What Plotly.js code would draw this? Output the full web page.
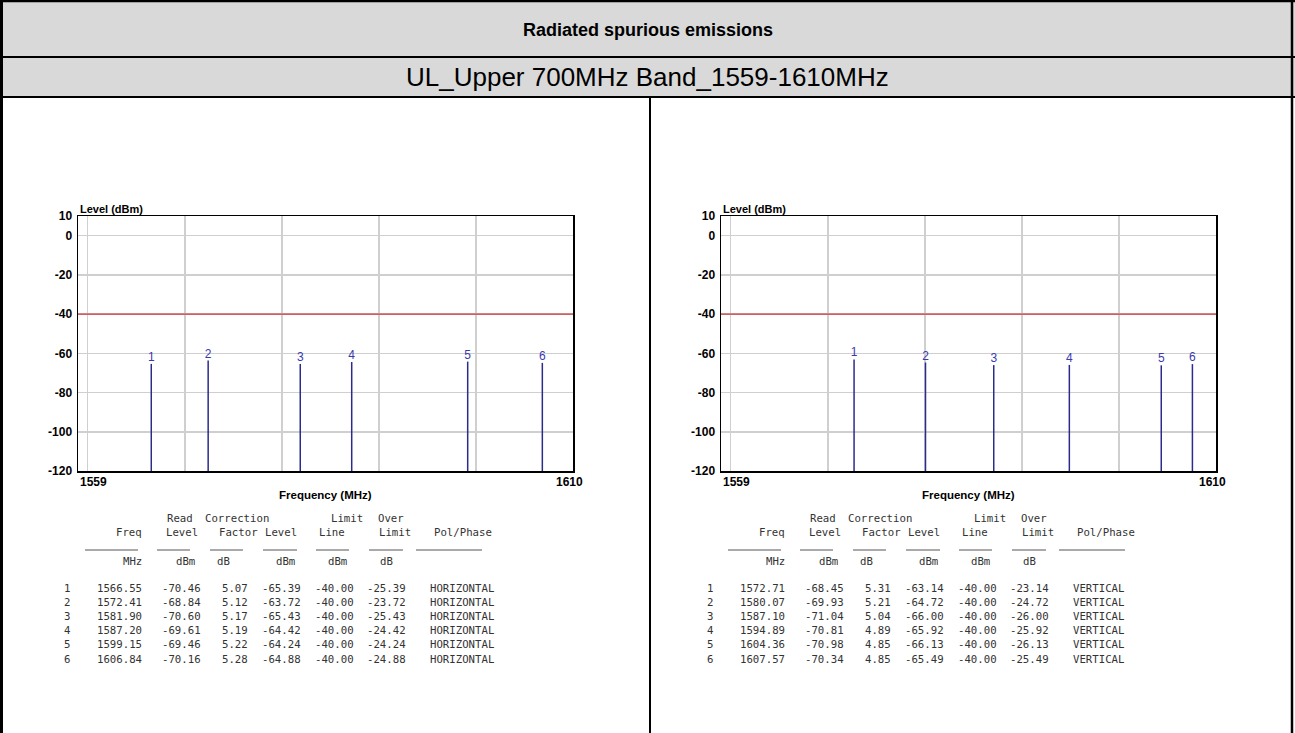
<!DOCTYPE html>
<html>
<head>
<meta charset="utf-8">
<script src="https://cdn.plot.ly/plotly-3.0.1.min.js"></script>
<style>
html,body{margin:0;padding:0;background:#fff;}
#chart{width:1295px;height:733px;}
</style>
</head>
<body>
<div id="chart"></div>
<script>
// ---------------- data ----------------
const title = "Radiated spurious emissions";
const subtitle = "UL_Upper 700MHz Band_1559-1610MHz";
const xTickLabels = ["1559", "1610"];
const yTickVals = [10, 0, -20, -40, -60, -80, -100, -120];
const markerLabels = ["1", "2", "3", "4", "5", "6"];
const limitLevel = -40;

const freqL  = [1566.55, 1572.41, 1581.90, 1587.20, 1599.15, 1606.84];
const readL  = [-70.46, -68.84, -70.60, -69.61, -69.46, -70.16];
const corrL  = [5.07, 5.12, 5.17, 5.19, 5.22, 5.28];
const levelL = [-65.39, -63.72, -65.43, -64.42, -64.24, -64.88];
const limitL = [-40.00, -40.00, -40.00, -40.00, -40.00, -40.00];
const overL  = [-25.39, -23.72, -25.43, -24.42, -24.24, -24.88];
const polL   = ["HORIZONTAL", "HORIZONTAL", "HORIZONTAL", "HORIZONTAL", "HORIZONTAL", "HORIZONTAL"];

const freqR  = [1572.71, 1580.07, 1587.10, 1594.89, 1604.36, 1607.57];
const readR  = [-68.45, -69.93, -71.04, -70.81, -70.98, -70.34];
const corrR  = [5.31, 5.21, 5.04, 4.89, 4.85, 4.85];
const levelR = [-63.14, -64.72, -66.00, -65.92, -66.13, -65.49];
const limitR = [-40.00, -40.00, -40.00, -40.00, -40.00, -40.00];
const overR  = [-23.14, -24.72, -26.00, -25.92, -26.13, -25.49];
const polR   = ["VERTICAL", "VERTICAL", "VERTICAL", "VERTICAL", "VERTICAL", "VERTICAL"];

// ---------------- layout helpers ----------------
const W = 1295, H = 733;
const px = x => x / W;
const py = y => 1 - y / H;
const xMin = 1559, xMax = 1610, yMin = -120, yMax = 10;

const spikeColor = "#2b2b8c";
const labelColor = "#3a3ab0";
const limitColor = "#d03a3a";
const gridColor = "#cfcfcf";
const tableColor = "#333333";
const mono = "DejaVu Sans Mono, Liberation Mono, monospace";
const arial = "Arial, Liberation Sans, sans-serif";

function spikeTrace(freqs, levels, xa, ya) {
  const xs = [], ys = [];
  freqs.forEach((f, i) => { xs.push(f, f, null); ys.push(yMin, levels[i], null); });
  return {x: xs, y: ys, mode: "lines", line: {color: spikeColor, width: 1.5},
          xaxis: xa, yaxis: ya, hoverinfo: "skip", showlegend: false};
}
function labelTrace(freqs, levels, xa, ya) {
  return {x: freqs, y: levels, text: markerLabels, mode: "text", textposition: "top center",
          textfont: {family: arial, size: 12, color: labelColor},
          xaxis: xa, yaxis: ya, hoverinfo: "skip", showlegend: false, cliponaxis: false};
}
function limitTrace(xa, ya) {
  return {x: [xMin, xMax], y: [limitLevel, limitLevel], mode: "lines",
          line: {color: limitColor, width: 1.2}, xaxis: xa, yaxis: ya,
          hoverinfo: "skip", showlegend: false};
}

const data = [
  limitTrace("x", "y"), spikeTrace(freqL, levelL, "x", "y"), labelTrace(freqL, levelL, "x", "y"),
  limitTrace("x2", "y2"), spikeTrace(freqR, levelR, "x2", "y2"), labelTrace(freqR, levelR, "x2", "y2")
];

function xAxis(dom, anchor) {
  return {domain: dom, anchor: anchor, range: [xMin, xMax], tickmode: "linear", tick0: 1560, dtick: 10,
          showticklabels: false, ticks: "", showgrid: true, gridcolor: gridColor, gridwidth: 1.5,
          zeroline: false, showline: true, mirror: true, linecolor: "#000", linewidth: 1.5, fixedrange: true};
}
function yAxis(dom, anchor) {
  return {domain: dom, anchor: anchor, range: [yMin, yMax], tickmode: "array", tickvals: yTickVals,
          ticktext: yTickVals.map(String), ticks: "", showgrid: true, gridcolor: gridColor, gridwidth: 1.5,
          zeroline: false, showline: true, mirror: true, linecolor: "#000", linewidth: 1.5,
          tickfont: {family: arial, size: 12, color: "#000", weight: "bold"}, ticklabelstandoff: 2, fixedrange: true};
}

const plotTop = 216, plotBot = 471;
const leftX = [78, 573], rightX = [721, 1216];

const annotations = [];
const shapes = [];

// header cells
shapes.push({type: "rect", xref: "paper", yref: "paper", x0: 0, x1: 1, y0: py(97), y1: 1,
             fillcolor: "#d9d9d9", line: {width: 0}, layer: "below"});
const blk = {color: "#000", width: 2};
shapes.push({type: "line", xref: "paper", yref: "paper", x0: px(0), x1: px(1295), y0: py(57), y1: py(57), line: blk});
shapes.push({type: "line", xref: "paper", yref: "paper", x0: px(0), x1: px(1295), y0: py(97), y1: py(97), line: blk});
shapes.push({type: "line", xref: "paper", yref: "paper", x0: px(650), x1: px(650), y0: py(97), y1: 0, line: blk});
shapes.push({type: "line", xref: "paper", yref: "paper", x0: px(0), x1: px(1295), y0: py(1), y1: py(1), line: {color: "#000", width: 2.5}});
shapes.push({type: "line", xref: "paper", yref: "paper", x0: px(1.5), x1: px(1.5), y0: 0, y1: 1, line: {color: "#000", width: 3}});
shapes.push({type: "line", xref: "paper", yref: "paper", x0: px(1292), x1: px(1292), y0: 0, y1: 1, line: {color: "#000", width: 2.5}});

annotations.push({xref: "paper", yref: "paper", x: 0.5, y: py(30), xanchor: "center", yanchor: "middle",
                  text: title, showarrow: false, font: {family: arial, size: 18, color: "#000", weight: "bold"}});
annotations.push({xref: "paper", yref: "paper", x: 0.5, y: py(77), xanchor: "center", yanchor: "middle",
                  text: subtitle, showarrow: false, font: {family: arial, size: 26, color: "#000"}});

// axis labels for both charts
[["x", "y"], ["x2", "y2"]].forEach(([xa, ya]) => {
  annotations.push({xref: xa + " domain", yref: "paper", x: 0, y: py(209), xanchor: "left", yanchor: "middle",
                    text: "Level (dBm)", showarrow: false, font: {family: arial, size: 11, color: "#000", weight: "bold"}});
  annotations.push({xref: xa + " domain", yref: "paper", x: 0.5, y: py(495), xanchor: "center", yanchor: "middle",
                    text: "Frequency (MHz)", showarrow: false, font: {family: arial, size: 11.5, color: "#000", weight: "bold"}});
  annotations.push({xref: xa, yref: "paper", x: xMin, y: py(482), xanchor: "left", yanchor: "middle",
                    text: xTickLabels[0], showarrow: false, font: {family: arial, size: 12, color: "#000", weight: "bold"}});
  annotations.push({xref: xa, yref: "paper", x: xMax, y: py(482), xanchor: "center", yanchor: "middle", xshift: -4,
                    text: xTickLabels[1], showarrow: false, font: {family: arial, size: 12, color: "#000", weight: "bold"}});
});

// tables
function txt(x, y, s, anchor) {
  annotations.push({xref: "paper", yref: "paper", x: px(x), y: py(y), xanchor: anchor, yanchor: "middle",
                    text: s, showarrow: false, font: {family: mono, size: 10.7, color: tableColor}});
}
function table(off, freqs, reads, corrs, levels, limits, overs, pols) {
  txt(off + 165, 518, "Read", "left");
  txt(off + 203, 518, "Correction", "left");
  txt(off + 329, 518, "Limit", "left");
  txt(off + 376, 518, "Over", "left");
  txt(off + 144, 532, "Freq", "right");
  txt(off + 164, 532, "Level", "left");
  txt(off + 217, 532, "Factor", "left");
  txt(off + 263, 532, "Level", "left");
  txt(off + 317, 532, "Line", "left");
  txt(off + 377, 532, "Limit", "left");
  txt(off + 432, 532, "Pol/Phase", "left");
  [[85, 138], [157, 190], [210, 243], [263, 297], [316, 349], [369, 403], [416, 482]].forEach(([a, b]) => {
    shapes.push({type: "line", xref: "paper", yref: "paper", x0: px(off + a), x1: px(off + b), y0: py(550), y1: py(550),
                 line: {color: "#555", width: 1}});
  });
  txt(off + 144, 561, "MHz", "right");
  txt(off + 197, 561, "dBm", "right");
  txt(off + 215, 561, "dB", "left");
  txt(off + 297, 561, "dBm", "right");
  txt(off + 349, 561, "dBm", "right");
  txt(off + 378, 561, "dB", "left");
  freqs.forEach((f, i) => {
    const y = 588 + i * 14.2;
    txt(off + 62, y, markerLabels[i], "left");
    txt(off + 144, y, f.toFixed(2), "right");
    txt(off + 203, y, reads[i].toFixed(2), "right");
    txt(off + 250, y, corrs[i].toFixed(2), "right");
    txt(off + 303, y, levels[i].toFixed(2), "right");
    txt(off + 356, y, limits[i].toFixed(2), "right");
    txt(off + 408, y, overs[i].toFixed(2), "right");
    txt(off + 428, y, pols[i], "left");
  });
}
table(0, freqL, readL, corrL, levelL, limitL, overL, polL);
table(643, freqR, readR, corrR, levelR, limitR, overR, polR);

const layout = {
  width: W, height: H, margin: {l: 0, r: 0, t: 0, b: 0, pad: 0},
  paper_bgcolor: "#fff", plot_bgcolor: "#fff", showlegend: false,
  xaxis: xAxis([px(leftX[0]), px(leftX[1])], "y"),
  yaxis: yAxis([py(plotBot), py(plotTop)], "x"),
  xaxis2: xAxis([px(rightX[0]), px(rightX[1])], "y2"),
  yaxis2: yAxis([py(plotBot), py(plotTop)], "x2"),
  shapes: shapes, annotations: annotations
};

Plotly.newPlot("chart", data, layout, {staticPlot: true, displayModeBar: false});
</script>
</body>
</html>
